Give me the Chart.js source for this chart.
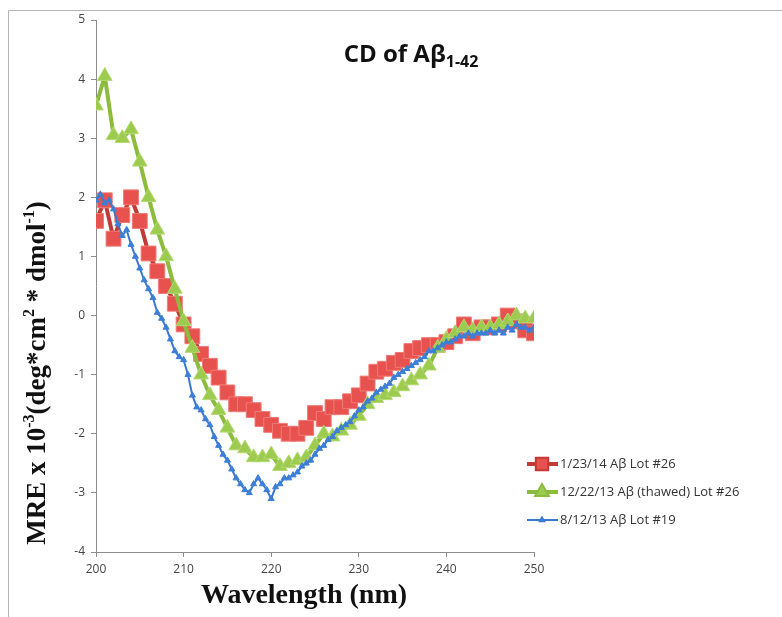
<!DOCTYPE html>
<html>
<head>
<meta charset="utf-8">
<script src="https://cdn.jsdelivr.net/npm/chart.js@4/dist/chart.umd.min.js"></script>
<style>
  html, body { margin: 0; padding: 0; background: #fff; }
  #wrap { width: 782px; height: 617px; }
</style>
</head>
<body>
<div id="wrap"><canvas id="cd"></canvas></div>
<script>
// wavelength grids (nm)
const wlCoarse = [200,201,202,203,204,205,206,207,208,209,210,211,212,213,214,215,216,217,218,219,220,
  221,222,223,224,225,226,227,228,229,230,231,232,233,234,235,236,237,238,239,240,
  241,242,243,244,245,246,247,248,249,250];
const wlFine = [200,200.5,201,201.5,202,202.5,203,203.5,204,204.5,205,205.5,206,206.5,207,207.5,208,208.5,209,209.5,
  210,210.5,211,211.5,212,212.5,213,213.5,214,214.5,215,215.5,216,216.5,217,217.5,218,218.5,219,219.5,
  220,220.5,221,221.5,222,222.5,223,223.5,224,224.5,225,225.5,226,226.5,227,227.5,228,228.5,229,229.5,
  230,230.5,231,231.5,232,232.5,233,233.5,234,234.5,235,235.5,236,236.5,237,237.5,238,238.5,239,239.5,
  240,240.5,241,241.5,242,242.5,243,243.5,244,244.5,245,245.5,246,246.5,247,247.5,248,248.5,249,249.5,250];

// MRE x 10^-3 values
const lot26 = [1.6,1.95,1.3,1.7,2.0,1.6,1.05,0.75,0.5,0.2,-0.15,-0.35,-0.65,-0.85,-1.05,-1.3,-1.5,-1.5,-1.6,-1.75,-1.85,
  -1.95,-2.0,-2.0,-1.9,-1.65,-1.75,-1.55,-1.55,-1.45,-1.35,-1.15,-0.95,-0.9,-0.8,-0.75,-0.6,-0.55,-0.5,-0.5,-0.45,
  -0.35,-0.15,-0.3,-0.2,-0.2,-0.15,0.0,-0.1,-0.25,-0.3];
const lot26thawed = [3.55,4.05,3.05,3.0,3.15,2.6,2.0,1.45,1.0,0.45,-0.1,-0.55,-1.0,-1.35,-1.6,-1.9,-2.2,-2.25,-2.4,-2.4,-2.35,
  -2.55,-2.5,-2.45,-2.4,-2.2,-2.0,-2.05,-1.95,-1.85,-1.7,-1.5,-1.4,-1.35,-1.3,-1.2,-1.1,-1.0,-0.85,-0.55,-0.4,
  -0.3,-0.2,-0.25,-0.2,-0.2,-0.15,-0.1,0.0,-0.05,-0.05];
const lot19 = [1.95,2.05,1.9,1.95,1.8,1.55,1.35,1.45,1.2,1.0,0.8,0.6,0.45,0.3,0.05,-0.05,-0.2,-0.4,-0.6,-0.7,
  -0.75,-1.0,-1.35,-1.55,-1.6,-1.75,-1.85,-2.05,-2.2,-2.35,-2.45,-2.6,-2.75,-2.85,-2.95,-3.0,-2.85,-2.75,-2.85,-2.95,
  -3.1,-2.9,-2.85,-2.75,-2.75,-2.7,-2.65,-2.55,-2.5,-2.45,-2.35,-2.25,-2.2,-2.1,-2.05,-1.95,-1.9,-1.85,-1.8,-1.7,
  -1.6,-1.55,-1.45,-1.4,-1.3,-1.25,-1.2,-1.15,-1.05,-1.0,-0.95,-0.9,-0.85,-0.8,-0.75,-0.7,-0.6,-0.6,-0.55,-0.5,
  -0.45,-0.45,-0.4,-0.35,-0.35,-0.3,-0.35,-0.3,-0.3,-0.3,-0.25,-0.3,-0.25,-0.3,-0.2,-0.25,-0.15,-0.2,-0.2,-0.25,-0.2];

const seriesNames = ['1/23/14 A\u03b2 Lot #26', '12/22/13 A\u03b2 (thawed) Lot #26', '8/12/13 A\u03b2 Lot #19'];
const xTicks = [200, 210, 220, 230, 240, 250];
const yTicks = [-4, -3, -2, -1, 0, 1, 2, 3, 4, 5];

const pairs = (xs, ys) => xs.map((x, i) => ({ x, y: ys[i] }));

const axisGray = '#8c8c8c';
const serif = '"Liberation Serif", "DejaVu Serif", serif';
const sans = '"Open Sans", "Noto Sans", sans-serif';

// title, axis titles with super/subscripts, legend, outer frame
const decorations = {
  id: 'decorations',
  afterDraw(chart) {
    const ctx = chart.ctx;
    ctx.save();

    // outer frame lines
    ctx.strokeStyle = '#b5b5b5';
    ctx.lineWidth = 1;
    ctx.beginPath();
    ctx.moveTo(8.5, 617); ctx.lineTo(8.5, 10.5); ctx.lineTo(782, 10.5);
    ctx.stroke();

    // runs: [text, font, dy]
    const drawRuns = (runs, cx, cy) => {
      let w = 0;
      runs.forEach(r => { ctx.font = r[1]; w += ctx.measureText(r[0]).width; });
      let x = cx - w / 2;
      runs.forEach(r => {
        ctx.font = r[1];
        ctx.fillText(r[0], x, cy + r[2]);
        x += ctx.measureText(r[0]).width;
      });
    };

    ctx.fillStyle = '#111';
    ctx.textBaseline = 'alphabetic';
    ctx.textAlign = 'left';

    // chart title
    drawRuns([
      ['CD of A\u03b2', 'bold 24px ' + sans, 0],
      ['1-42', 'bold 16px ' + sans, 5]
    ], 411, 62);

    // x axis title
    drawRuns([['Wavelength (nm)', 'bold 28px ' + serif, 0]], 304, 603);

    // y axis title (rotated)
    ctx.save();
    ctx.translate(45, 373);
    ctx.rotate(-Math.PI / 2);
    const big = 'bold 27px ' + serif, sup = 'bold 16px ' + serif;
    drawRuns([
      ['MRE x 10', big, 0], ['-3', sup, -11],
      ['(deg*cm', big, 0], ['2', sup, -11],
      [' * dmol', big, 0], ['-1', sup, -11],
      [')', big, 0]
    ], 0, 0);
    ctx.restore();

    // legend
    const ys = [464, 492, 520];
    ctx.font = '13px ' + sans;
    ctx.textBaseline = 'middle';
    chart.data.datasets.forEach((ds, i) => {
      const y = ys[i];
      ctx.strokeStyle = ds.borderColor;
      ctx.lineWidth = ds.borderWidth;
      ctx.beginPath();
      ctx.moveTo(527, y); ctx.lineTo(558, y);
      ctx.stroke();
      Chart.helpers.drawPoint(ctx, {
        pointStyle: ds.pointStyle,
        radius: ds.pointRadius * 0.7,
        borderWidth: 1
      }, 542, y);
      ctx.fillStyle = ds.pointBackgroundColor;
      ctx.strokeStyle = ds.pointBorderColor;
      ctx.fill();
      ctx.fillStyle = '#333';
      ctx.fillText(ds.label, 560, y);
    });
    ctx.restore();
  }
};

new Chart(document.getElementById('cd'), {
  type: 'scatter',
  data: {
    datasets: [
      {
        label: seriesNames[0],
        data: pairs(wlCoarse, lot26),
        showLine: true,
        borderColor: '#c23a36',
        borderWidth: 4,
        pointStyle: 'rect',
        pointRadius: 10.5,
        pointBackgroundColor: '#e8524e',
        pointBorderColor: '#f07a76',
        pointBorderWidth: 1,
        order: 2
      },
      {
        label: seriesNames[1],
        data: pairs(wlCoarse, lot26thawed),
        showLine: true,
        borderColor: '#8cbc3e',
        borderWidth: 4,
        pointStyle: 'triangle',
        pointRadius: 8.5,
        pointBackgroundColor: '#9dcb4f',
        pointBorderColor: '#b4da72',
        pointBorderWidth: 1,
        order: 1
      },
      {
        label: seriesNames[2],
        data: pairs(wlFine, lot19),
        showLine: true,
        borderColor: '#3b78cc',
        borderWidth: 2,
        pointStyle: 'triangle',
        pointRadius: 3.5,
        pointBackgroundColor: '#3d7fd6',
        pointBorderColor: '#3d7fd6',
        pointBorderWidth: 1,
        order: 0
      }
    ]
  },
  options: {
    responsive: true,
    maintainAspectRatio: false,
    animation: false,
    layout: { padding: { left: 0, top: 20, right: 248, bottom: 0 } },
    plugins: {
      legend: { display: false },
      tooltip: { enabled: false }
    },
    scales: {
      x: {
        type: 'linear',
        min: 200,
        max: 250,
        afterFit: s => { s.height = 65; },
        afterBuildTicks: s => { s.ticks = xTicks.map(v => ({ value: v })); },
        grid: { drawOnChartArea: false, color: axisGray, tickLength: 5 },
        border: { color: axisGray, width: 1 },
        ticks: { color: '#444', font: { family: sans, size: 12 }, padding: 5 }
      },
      y: {
        min: -4,
        max: 5,
        afterFit: s => { s.width = 96; },
        afterBuildTicks: s => { s.ticks = yTicks.map(v => ({ value: v })); },
        grid: { drawOnChartArea: false, color: axisGray, tickLength: 5 },
        border: { color: axisGray, width: 1 },
        ticks: { color: '#444', font: { family: sans, size: 12 }, padding: 6 }
      }
    }
  },
  plugins: [decorations]
});
</script>
</body>
</html>
